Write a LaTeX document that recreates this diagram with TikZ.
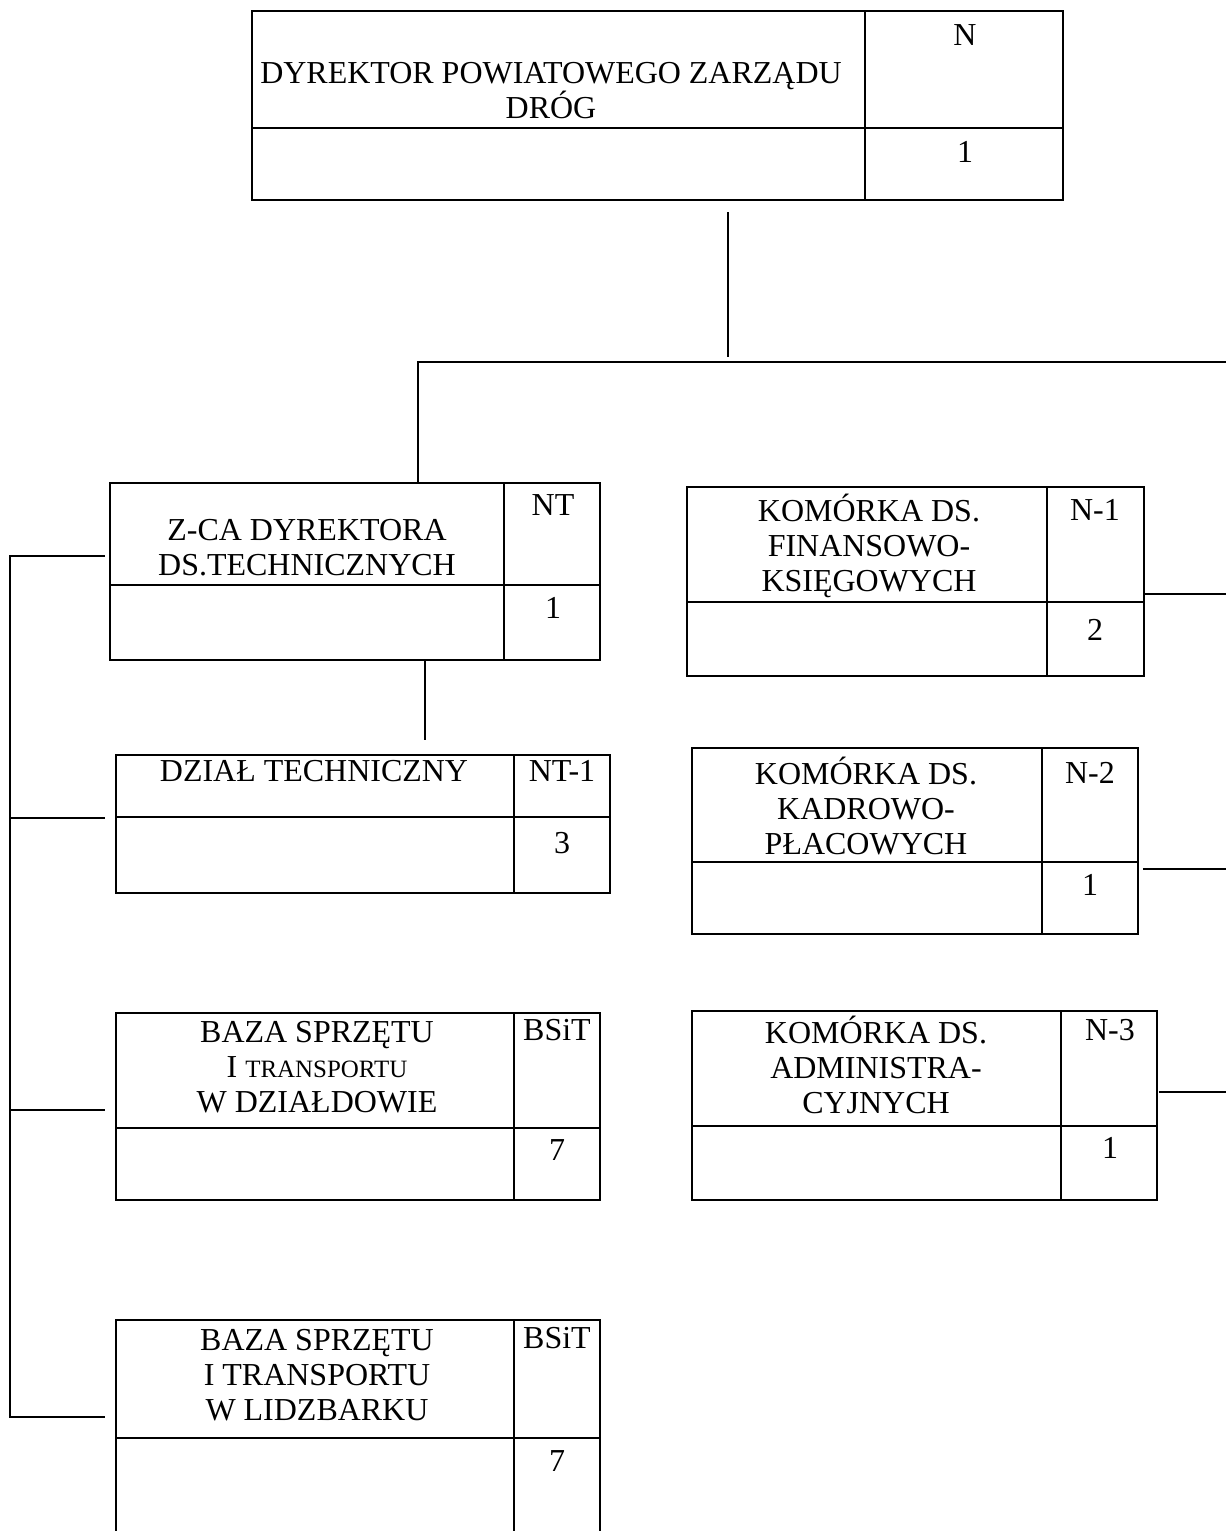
\documentclass[tikz,border=0pt]{standalone}
\usepackage{fontspec}
\setmainfont{Liberation Serif}
\usepackage{tikz}
\usetikzlibrary{positioning}
\tikzset{
    every picture/.style={line cap=butt,line join=miter},
    cell/.style={draw=black,line width=1.3pt,inner sep=0pt,outer sep=0pt},
    unittext/.style={font=\fontsize{18.2}{20}\selectfont,align=center,
      inner sep=0pt,text=black},
    link/.style={draw=black,line width=1pt}
}

\begin{document}
\begin{tikzpicture}[x=0.02cm,y=-0.02cm]
  \useasboundingbox[fill=white] (0,0) rectangle (1226,1531);

  % dyrektor
  \node[cell,minimum width=12.26cm,minimum height=2.34cm,anchor=north west] (dir) at (252,11) {};
  \node[cell,minimum width=3.96cm,minimum height=2.34cm,right=0pt of dir] (dirCode) {};
  \node[cell,minimum width=12.26cm,minimum height=1.44cm,below=0pt of dir] (dirBlank) {};
  \node[cell,minimum width=3.96cm,minimum height=1.44cm,right=0pt of dirBlank] (dirNum) {};
  \node[unittext] (dirName) at (551,91) {DYREKTOR POWIATOWEGO ZARZĄDU\\DRÓG};
  \node[unittext] (dirCodeText) at (965,35) {N};
  \node[unittext] (dirNumText) at (965,152) {1};

  % z-ca dyrektora
  \node[cell,minimum width=7.88cm,minimum height=2.04cm,anchor=north west] (zca) at (110,483) {};
  \node[cell,minimum width=1.92cm,minimum height=2.04cm,right=0pt of zca] (zcaCode) {};
  \node[cell,minimum width=7.88cm,minimum height=1.5cm,below=0pt of zca] (zcaBlank) {};
  \node[cell,minimum width=1.92cm,minimum height=1.5cm,right=0pt of zcaBlank] (zcaNum) {};
  \node[unittext] (zcaName) at (307,548) {Z-CA DYREKTORA\\DS.TECHNICZNYCH};
  \node[unittext] (zcaCodeText) at (553,505) {NT};
  \node[unittext] (zcaNumText) at (553,608) {1};

  % dzial techniczny
  \node[cell,minimum width=7.96cm,minimum height=1.24cm,anchor=north west] (tech) at (116,755) {};
  \node[cell,minimum width=1.92cm,minimum height=1.24cm,right=0pt of tech] (techCode) {};
  \node[cell,minimum width=7.96cm,minimum height=1.52cm,below=0pt of tech] (techBlank) {};
  \node[cell,minimum width=1.92cm,minimum height=1.52cm,right=0pt of techBlank] (techNum) {};
  \node[unittext] (techName) at (314,771) {DZIAŁ TECHNICZNY};
  \node[unittext] (techCodeText) at (562,771) {NT-1};
  \node[unittext] (techNumText) at (562,843) {3};

  % baza dzialdowo
  \node[cell,minimum width=7.96cm,minimum height=2.3cm,anchor=north west] (bazaD) at (116,1013) {};
  \node[cell,minimum width=1.72cm,minimum height=2.3cm,right=0pt of bazaD] (bazaDCode) {};
  \node[cell,minimum width=7.96cm,minimum height=1.44cm,below=0pt of bazaD] (bazaDBlank) {};
  \node[cell,minimum width=1.72cm,minimum height=1.44cm,right=0pt of bazaDBlank] (bazaDNum) {};
  \node[unittext] (bazaDName) at (317,1067)
    {BAZA SPRZĘTU\\I {\fontsize{14.2}{20}\selectfont TRANSPORTU}\\W DZIAŁDOWIE};
  \node[unittext] (bazaDCodeText) at (557,1030) {BSiT};
  \node[unittext] (bazaDNumText) at (557,1150) {7};

  % baza lidzbark
  \node[cell,minimum width=7.96cm,minimum height=2.36cm,anchor=north west] (bazaL) at (116,1320) {};
  \node[cell,minimum width=1.72cm,minimum height=2.36cm,right=0pt of bazaL] (bazaLCode) {};
  \node[cell,minimum width=7.96cm,minimum height=2.2cm,below=0pt of bazaL] (bazaLBlank) {};
  \node[cell,minimum width=1.72cm,minimum height=2.2cm,right=0pt of bazaLBlank] (bazaLNum) {};
  \node[unittext] (bazaLName) at (317,1375) {BAZA SPRZĘTU\\I TRANSPORTU\\W LIDZBARKU};
  \node[unittext] (bazaLCodeText) at (557,1338) {BSiT};
  \node[unittext] (bazaLNumText) at (557,1461) {7};

  % komorka finansowo-ksiegowa
  \node[cell,minimum width=7.2cm,minimum height=2.3cm,anchor=north west] (fin) at (687,487) {};
  \node[cell,minimum width=1.94cm,minimum height=2.3cm,right=0pt of fin] (finCode) {};
  \node[cell,minimum width=7.2cm,minimum height=1.48cm,below=0pt of fin] (finBlank) {};
  \node[cell,minimum width=1.94cm,minimum height=1.48cm,right=0pt of finBlank] (finNum) {};
  \node[unittext] (finName) at (869,546) {KOMÓRKA DS.\\FINANSOWO-\\KSIĘGOWYCH};
  \node[unittext] (finCodeText) at (1095,510) {N-1};
  \node[unittext] (finNumText) at (1095,630) {2};

  % komorka kadrowo-placowa
  \node[cell,minimum width=7cm,minimum height=2.28cm,anchor=north west] (kadr) at (692,748) {};
  \node[cell,minimum width=1.92cm,minimum height=2.28cm,right=0pt of kadr] (kadrCode) {};
  \node[cell,minimum width=7cm,minimum height=1.44cm,below=0pt of kadr] (kadrBlank) {};
  \node[cell,minimum width=1.92cm,minimum height=1.44cm,right=0pt of kadrBlank] (kadrNum) {};
  \node[unittext] (kadrName) at (866,806) {KOMÓRKA DS.\\KADROWO-\\PŁACOWYCH};
  \node[unittext] (kadrCodeText) at (1090,773) {N-2};
  \node[unittext] (kadrNumText) at (1090,885) {1};

  % komorka administracyjna
  \node[cell,minimum width=7.38cm,minimum height=2.3cm,anchor=north west] (adm) at (692,1011) {};
  \node[cell,minimum width=1.92cm,minimum height=2.3cm,right=0pt of adm] (admCode) {};
  \node[cell,minimum width=7.38cm,minimum height=1.48cm,below=0pt of adm] (admBlank) {};
  \node[cell,minimum width=1.92cm,minimum height=1.48cm,right=0pt of admBlank] (admNum) {};
  \node[unittext] (admName) at (876,1065) {KOMÓRKA DS.\\ADMINISTRA-\\CYJNYCH};
  \node[unittext] (admCodeText) at (1110,1030) {N-3};
  \node[unittext] (admNumText) at (1110,1148) {1};

  % connectors
  \coordinate (busTop) at (728,212);
  \coordinate (busJoin) at (728,357);
  \coordinate (busL) at (418,362);
  \coordinate (busR) at (1226,362);
  \coordinate (techDrop) at (425,740);
  \coordinate (spineTop) at (10,556);
  \coordinate (spineBot) at (10,1417);
  \coordinate (pageR) at (1226,0);

  \draw[link] (busTop)--(busJoin);
  \draw[link] (busR)--(busL)--(zca.north -| busL);
  \draw[link] (zcaBlank.south -| techDrop)--(techDrop);
  \draw[link] ([xshift=-0.1cm]zca.west |- spineTop)--(spineTop)--(spineBot)
    --([xshift=-0.22cm]bazaL.west |- spineBot);
  \draw[link] (spineTop |- 0,818)--([xshift=-0.22cm]tech.west |- 0,818);
  \draw[link] (spineTop |- 0,1110)--([xshift=-0.22cm]bazaD.west |- 0,1110);
  \draw[link] (finCode.east |- 0,594)--(pageR |- 0,594);
  \draw[link] ([xshift=0.1cm]kadrCode.east |- 0,869)--(pageR |- 0,869);
  \draw[link] ([xshift=0.04cm]admCode.east |- 0,1092)--(pageR |- 0,1092);
\end{tikzpicture}
\end{document}
